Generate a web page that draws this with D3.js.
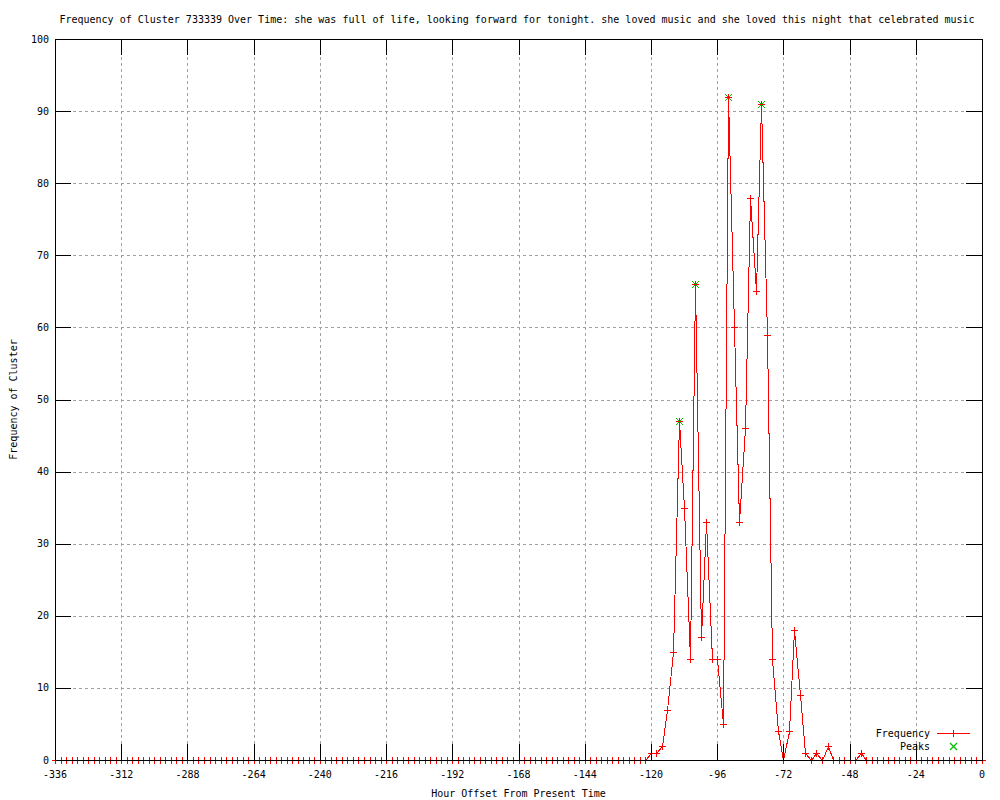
<!DOCTYPE html>
<html><head><meta charset="utf-8">
<script src="https://cdn.jsdelivr.net/npm/d3@7"></script>
<style>body{margin:0;background:#fff}svg{display:block}</style>
</head><body>
<svg id="chart" width="1000" height="800"></svg>
<script>
const hours = [
-336,-334,-332,-330,-328,-326,-324,-322,-320,-318,-316,-314,
-312,-310,-308,-306,-304,-302,-300,-298,-296,-294,-292,-290,
-288,-286,-284,-282,-280,-278,-276,-274,-272,-270,-268,-266,
-264,-262,-260,-258,-256,-254,-252,-250,-248,-246,-244,-242,
-240,-238,-236,-234,-232,-230,-228,-226,-224,-222,-220,-218,
-216,-214,-212,-210,-208,-206,-204,-202,-200,-198,-196,-194,
-192,-190,-188,-186,-184,-182,-180,-178,-176,-174,-172,-170,
-168,-166,-164,-162,-160,-158,-156,-154,-152,-150,-148,-146,
-144,-142,-140,-138,-136,-134,-132,-130,-128,-126,-124,-122,
-120,-118,-116,-114,-112,-110,-108,-106,-104,-102,
-100,-98,-96,-94,-92,-90,-88,-86,-84,-82,
-80,-78,-76,-74,-72,-70,-68,-66,-64,-62,
-60,-58,-56,-54,-52,-50,-48,-46,-44,-42,
-40,-38,-36,-34,-32,-30,-28,-26,-24,-22,
-20,-18,-16,-14,-12,-10,-8,-6,-4,-2,0];
const frequency = [
0,0,0,0,0,0,0,0,0,0,0,0,
0,0,0,0,0,0,0,0,0,0,0,0,
0,0,0,0,0,0,0,0,0,0,0,0,
0,0,0,0,0,0,0,0,0,0,0,0,
0,0,0,0,0,0,0,0,0,0,0,0,
0,0,0,0,0,0,0,0,0,0,0,0,
0,0,0,0,0,0,0,0,0,0,0,0,
0,0,0,0,0,0,0,0,0,0,0,0,
0,0,0,0,0,0,0,0,0,0,0,0,
1,1,2,7,15,47,35,14,66,17,
33,14,14,5,92,60,33,46,78,65,
91,59,14,4,0,4,18,9,1,0,
1,0,2,0,0,0,0,0,1,0,
0,0,0,0,0,0,0,0,0,0,
0,0,0,0,0,0,0,0,0,0,0];
const peakHours = [-110,-104,-92,-80];
const peakValues = [47,66,92,91];
const xTicks = [-336,-312,-288,-264,-240,-216,-192,-168,-144,-120,-96,-72,-48,-24,0];
const yTicks = [0,10,20,30,40,50,60,70,80,90,100];
const titleText = "Frequency of Cluster 733339 Over Time: she was full of life, looking forward for tonight. she loved music and she loved this night that celebrated music";
const xLabel = "Hour Offset From Present Time";
const yLabel = "Frequency of Cluster";
const legendNames = ["Frequency", "Peaks"];

const W = 1000, H = 800;
const L = 55, R = 982, T = 39, B = 760;
const FONT = "'DejaVu Sans Mono', monospace";
const RED = "#ff0000", GREEN = "#00c000";
const TICK = 16;

const svg = d3.select("#chart").attr("shape-rendering", "crispEdges");
svg.append("rect").attr("width", W).attr("height", H).attr("fill", "#fff");

const x = d3.scaleLinear().domain([-336, 0]).range([L, R]);
const y = d3.scaleLinear().domain([0, 100]).range([B, T]);
const px = v => Math.round(x(v)) + 0.5;
const py = v => Math.round(y(v)) + 0.5;

// grid
const grid = svg.append("g").attr("stroke", "#a0a0a0").attr("stroke-width", 1).attr("stroke-dasharray", "3,3");
grid.selectAll("line.gx").data(xTicks.filter(t => t > -336 && t < 0)).join("line").attr("class", "gx")
  .attr("x1", d => px(d)).attr("x2", d => px(d)).attr("y1", T).attr("y2", B);
grid.selectAll("line.gy").data(yTicks.filter(t => t > 0 && t < 100)).join("line").attr("class", "gy")
  .attr("y1", d => py(d)).attr("y2", d => py(d)).attr("x1", L).attr("x2", R);

// data
const series = hours.map((h, i) => [h, frequency[i]]);
const peaks = peakHours.map((h, i) => [h, peakValues[i]]);

const plus = "M-3.5,0H3.5M0,-3.5V3.5";
const cross = "M-3.5,-3.5L3.5,3.5M-3.5,3.5L3.5,-3.5";

svg.append("g").selectAll("path").data(peaks).join("path")
  .attr("transform", d => `translate(${px(d[0])},${py(d[1])})`)
  .attr("d", cross).attr("stroke", GREEN).attr("stroke-width", 1.3).attr("fill", "none");

svg.append("path").datum(series)
  .attr("d", d3.line().x(d => px(d[0])).y(d => py(d[1])))
  .attr("fill", "none").attr("stroke", RED).attr("stroke-width", 1);

svg.append("g").selectAll("path").data(series).join("path")
  .attr("transform", d => `translate(${px(d[0])},${py(d[1])})`)
  .attr("d", plus).attr("stroke", RED).attr("fill", "none");

// border and ticks
const axisG = svg.append("g").attr("stroke", "#000").attr("stroke-width", 1);
axisG.append("rect").attr("x", L + 0.5).attr("y", T + 0.5).attr("width", R - L).attr("height", B - T).attr("fill", "none");
axisG.selectAll("line.xb").data(xTicks).join("line").attr("class", "xb")
  .attr("x1", d => px(d)).attr("x2", d => px(d)).attr("y1", B).attr("y2", B - TICK);
axisG.selectAll("line.xt").data(xTicks).join("line").attr("class", "xt")
  .attr("x1", d => px(d)).attr("x2", d => px(d)).attr("y1", T).attr("y2", T + TICK);
axisG.selectAll("line.yl").data(yTicks).join("line").attr("class", "yl")
  .attr("y1", d => py(d)).attr("y2", d => py(d)).attr("x1", L).attr("x2", L + TICK);
axisG.selectAll("line.yr").data(yTicks).join("line").attr("class", "yr")
  .attr("y1", d => py(d)).attr("y2", d => py(d)).attr("x1", R).attr("x2", R - TICK);

// tick labels
const txt = svg.append("g").attr("font-family", FONT).attr("font-size", 10).attr("fill", "#000");
txt.selectAll("text.xl").data(xTicks).join("text").attr("class", "xl")
  .attr("x", d => x(d)).attr("y", 778).attr("text-anchor", "middle")
  .text(d => String(d));
txt.selectAll("text.yl").data(yTicks).join("text").attr("class", "yl")
  .attr("x", 49).attr("y", d => y(d) + 3.5).attr("text-anchor", "end").text(d => String(d));

// title & labels
txt.append("text").attr("x", 517).attr("y", 23).attr("text-anchor", "middle").text(titleText);
txt.append("text").attr("x", x(-168)).attr("y", 797).attr("text-anchor", "middle").text(xLabel);
txt.append("text").attr("transform", `translate(17,${(T + B) / 2}) rotate(-90)`).attr("text-anchor", "middle").text(yLabel);

// legend
const legY = [733, 746];
txt.selectAll("text.lg").data(legendNames).join("text").attr("class", "lg")
  .attr("x", 930).attr("y", (d, i) => legY[i] + 3.5).attr("text-anchor", "end").text(d => d);
const leg = svg.append("g").attr("fill", "none");
leg.append("line").attr("x1", 937).attr("x2", 970).attr("y1", legY[0] + 0.5).attr("y2", legY[0] + 0.5).attr("stroke", RED);
leg.append("path").attr("transform", `translate(953.5,${legY[0] + 0.5})`).attr("d", plus).attr("stroke", RED);
leg.append("path").attr("transform", `translate(953.5,${legY[1] + 0.5})`).attr("d", cross)
  .attr("stroke", GREEN).attr("stroke-width", 1.3).attr("shape-rendering", "auto");
</script>
</body></html>
